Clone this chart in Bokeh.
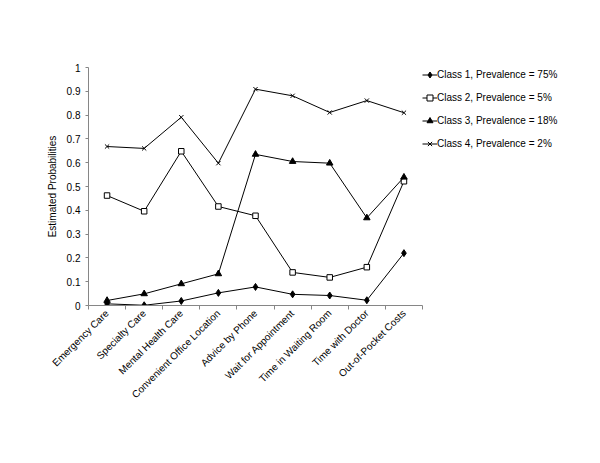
import numpy as np
from bokeh.plotting import figure
from bokeh.models import Range1d, FixedTicker, Legend, LegendItem
from bokeh.embed import file_html
from bokeh.resources import INLINE

categories = ["Emergency Care", "Specialty Care", "Mental Health Care",
              "Convenient Office Location", "Advice by Phone",
              "Wait for Appointment", "Time in Waiting Room",
              "Time with Doctor", "Out-of-Pocket Costs"]

class1 = [0.007, 0.001, 0.019, 0.053, 0.078, 0.047, 0.042, 0.022, 0.220]
class2 = [0.462, 0.396, 0.648, 0.416, 0.377, 0.139, 0.118, 0.161, 0.522]
class3 = [0.021, 0.049, 0.091, 0.133, 0.635, 0.605, 0.598, 0.368, 0.539]
class4 = [0.668, 0.660, 0.791, 0.598, 0.909, 0.881, 0.811, 0.861, 0.810]

series_labels = ["Class 1, Prevalence = 75%", "Class 2, Prevalence = 5%",
                 "Class 3, Prevalence = 18%", "Class 4, Prevalence = 2%"]

y_ticks = [0, 0.1, 0.2, 0.3, 0.4, 0.5, 0.6, 0.7, 0.8, 0.9, 1.0]
y_tick_labels = ["0", "0.1", "0.2", "0.3", "0.4", "0.5", "0.6", "0.7", "0.8", "0.9", "1"]

FONT = "Liberation Sans"
AXIS_GRAY = "#868686"

n = len(categories)
xs = np.arange(n) + 0.5

p = figure(frame_width=334, frame_height=238, output_backend="svg", toolbar_location=None,
           x_range=Range1d(0, n), y_range=Range1d(0, 1),
           min_border_left=88, min_border_top=67, min_border_bottom=140,
           min_border_right=10)
p.outline_line_color = None
p.xgrid.visible = False
p.ygrid.visible = False
p.background_fill_color = "white"
p.border_fill_color = "white"

# x axis: labels at category centres, small ticks at category boundaries
p.xaxis.ticker = FixedTicker(ticks=list(xs), minor_ticks=list(range(n + 1)))
p.xaxis.major_label_overrides = {float(x): c for x, c in zip(xs, categories)}
p.xaxis.major_label_orientation = np.pi / 4
p.xaxis.major_tick_out = 0
p.xaxis.major_tick_in = 0
p.xaxis.minor_tick_out = 4
p.xaxis.minor_tick_in = 0
p.xaxis.minor_tick_line_color = AXIS_GRAY
p.xaxis.axis_line_color = AXIS_GRAY
p.xaxis.major_label_text_font = FONT
p.xaxis.major_label_text_font_size = "10px"
p.xaxis.major_label_text_color = "black"
p.xaxis.major_label_standoff = 2

p.yaxis.ticker = FixedTicker(ticks=y_ticks, minor_ticks=[])
p.yaxis.major_label_overrides = {float(t): l for t, l in zip(y_ticks, y_tick_labels)}
p.yaxis.major_tick_out = 3
p.yaxis.major_tick_in = 0
p.yaxis.major_tick_line_color = AXIS_GRAY
p.yaxis.axis_line_color = AXIS_GRAY
p.yaxis.major_label_text_font = FONT
p.yaxis.major_label_text_font_size = "10px"
p.yaxis.major_label_text_color = "black"
p.yaxis.major_label_standoff = 5
p.yaxis.axis_label = "Estimated Probabilities"
p.yaxis.axis_label_text_font = FONT
p.yaxis.axis_label_text_font_size = "10px"
p.yaxis.axis_label_text_font_style = "normal"
p.yaxis.axis_label_text_color = "black"
p.yaxis.axis_label_standoff = 6

items = []
data = [class1, class2, class3, class4]
markers = ["diamond", "square", "triangle", "x"]
fills = ["black", "white", "black", None]
sizes = [7, 5.5, 6.5, 6]
for vals, mk, fc, sz, lab in zip(data, markers, fills, sizes, series_labels):
    lr = p.line(xs, vals, line_color="black", line_width=1)
    if fc is None:
        mr = p.scatter(xs, vals, marker=mk, size=sz, line_color="black", line_width=1)
    else:
        mr = p.scatter(xs, vals, marker=mk, size=sz, line_color="black",
                       fill_color=fc, line_width=1)
    items.append(LegendItem(label=lab, renderers=[lr, mr]))

legend = Legend(items=items, location="top_left")
legend.margin = 0
legend.padding = 0
legend.spacing = 8
legend.glyph_width = 15
legend.glyph_height = 15
legend.label_height = 15
legend.label_standoff = 0
legend.label_text_font = FONT
legend.label_text_font_size = "10px"
legend.label_text_color = "black"
legend.border_line_color = None
legend.background_fill_alpha = 0
p.add_layout(legend, "right")

open("out.html", "w").write(file_html(p, INLINE))
